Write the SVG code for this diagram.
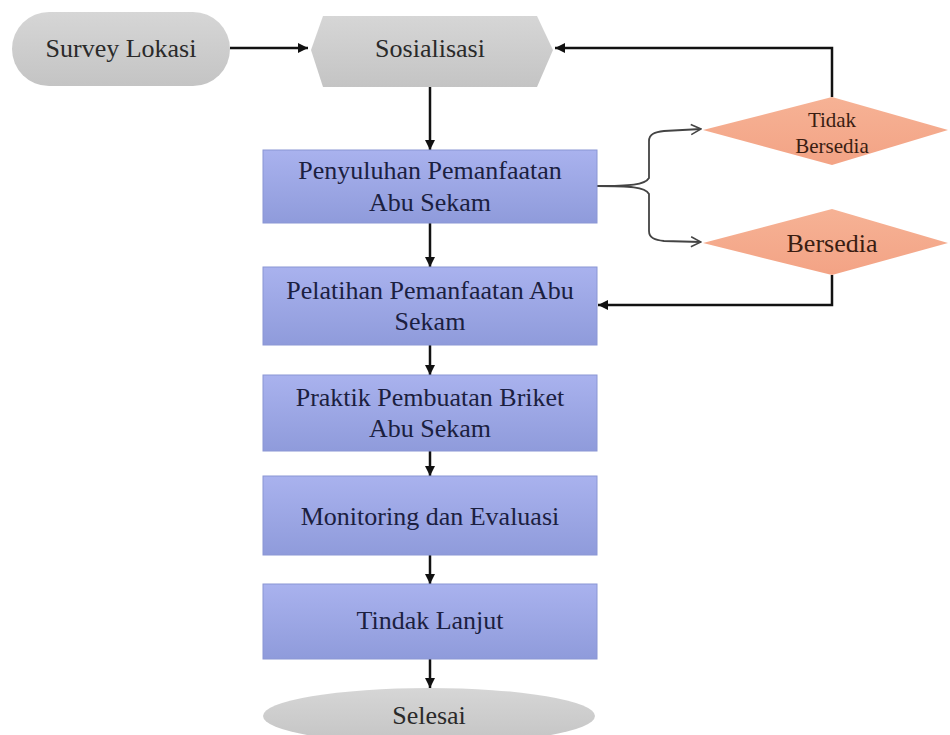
<svg xmlns="http://www.w3.org/2000/svg" width="950" height="735" viewBox="0 0 950 735">
<defs>
<linearGradient id="gBlue" x1="0" y1="0" x2="0" y2="1">
<stop offset="0" stop-color="#a9b2ee"/>
<stop offset="1" stop-color="#8f9bdb"/>
</linearGradient>
<linearGradient id="gGray" x1="0" y1="0" x2="0" y2="1">
<stop offset="0" stop-color="#d6d6d6"/>
<stop offset="1" stop-color="#c4c4c4"/>
</linearGradient>
<linearGradient id="gSalmon" x1="0" y1="0" x2="0" y2="1">
<stop offset="0" stop-color="#f6b295"/>
<stop offset="1" stop-color="#f3a385"/>
</linearGradient>
<marker id="ah" viewBox="0 0 10 10" refX="10" refY="5" markerWidth="10" markerHeight="10" markerUnits="userSpaceOnUse" orient="auto">
<path d="M0,0 L10,5 L0,10 Z" fill="#111"/>
</marker>
<marker id="oh" viewBox="0 0 12 12" refX="11" refY="6" markerWidth="12" markerHeight="12" markerUnits="userSpaceOnUse" orient="auto">
<path d="M1,1 L11,6 L1,11" fill="none" stroke="#444" stroke-width="1.5"/>
</marker>
</defs>
<style>
text{text-anchor:middle}
.blue{fill:url(#gBlue);stroke:#8a96d4;stroke-width:1}
.gray{fill:url(#gGray)}
.dia{fill:url(#gSalmon)}
.tb{font-size:26px;fill:#1b2040}
.tg{font-size:26px;fill:#2a2a2a}
.td{fill:#3a1d12}
.conn{fill:none;stroke:#111;stroke-width:2.5}
.brace{fill:none;stroke:#444;stroke-width:1.8}
</style>
<rect width="950" height="735" fill="#fff"/>

<g id="connectors">
<line class="conn" x1="230" y1="48" x2="308" y2="48" marker-end="url(#ah)"/>
<line class="conn" x1="430" y1="87" x2="430" y2="150" marker-end="url(#ah)"/>
<line class="conn" x1="430" y1="223" x2="430" y2="267" marker-end="url(#ah)"/>
<line class="conn" x1="430" y1="345" x2="430" y2="375" marker-end="url(#ah)"/>
<line class="conn" x1="430" y1="451" x2="430" y2="476" marker-end="url(#ah)"/>
<line class="conn" x1="430" y1="555" x2="430" y2="584" marker-end="url(#ah)"/>
<line class="conn" x1="430" y1="659" x2="430" y2="688" marker-end="url(#ah)"/>
<polyline class="conn" points="832,97 832,48 555,48" marker-end="url(#ah)"/>
<polyline class="conn" points="832,275 832,305 598,305" marker-end="url(#ah)"/>
<path class="brace" d="M597,186 C630,186 645,185 649,178 L649,141 C649,134 655,132 664,131 L701,129" marker-end="url(#oh)"/>
<path class="brace" d="M597,186 C630,186 645,187 649,194 L649,231 C649,238 655,240 664,241 L701,242" marker-end="url(#oh)"/>
</g>

<g font-family="Liberation Serif, Times New Roman, serif">
<g id="survey">
<rect class="gray" x="12" y="12" width="218" height="74" rx="37"/>
<text class="tg" x="121" y="57">Survey Lokasi</text>
</g>
<g id="sosialisasi">
<polygon class="gray" points="311,50 323,16 537,16 553,50 537,87 323,87"/>
<text class="tg" x="430" y="57">Sosialisasi</text>
</g>
<g id="penyuluhan">
<rect class="blue" x="263" y="150" width="334" height="73"/>
<text class="tb" x="430" y="179">Penyuluhan Pemanfaatan</text>
<text class="tb" x="430" y="211">Abu Sekam</text>
</g>
<g id="pelatihan">
<rect class="blue" x="263" y="267" width="334" height="78"/>
<text class="tb" x="430" y="299">Pelatihan Pemanfaatan Abu</text>
<text class="tb" x="430" y="330">Sekam</text>
</g>
<g id="praktik">
<rect class="blue" x="263" y="375" width="334" height="76"/>
<text class="tb" x="430" y="406">Praktik Pembuatan Briket</text>
<text class="tb" x="430" y="437">Abu Sekam</text>
</g>
<g id="monitoring">
<rect class="blue" x="263" y="476" width="334" height="79"/>
<text class="tb" x="430" y="525">Monitoring dan Evaluasi</text>
</g>
<g id="tindak-lanjut">
<rect class="blue" x="263" y="584" width="334" height="75"/>
<text class="tb" x="430" y="629">Tindak Lanjut</text>
</g>
<g id="selesai">
<ellipse class="gray" cx="429" cy="716" rx="166" ry="28"/>
<text class="tg" x="429" y="724">Selesai</text>
</g>
<g id="tidak-bersedia">
<polygon class="dia" points="703,130 832,97 948,130 832,165"/>
<text class="td" x="832" y="127" font-size="21">Tidak</text>
<text class="td" x="832" y="153" font-size="21">Bersedia</text>
</g>
<g id="bersedia">
<polygon class="dia" points="703,243 832,209 948,243 832,275"/>
<text class="td" x="832" y="252" font-size="26">Bersedia</text>
</g>
</g>
</svg>
